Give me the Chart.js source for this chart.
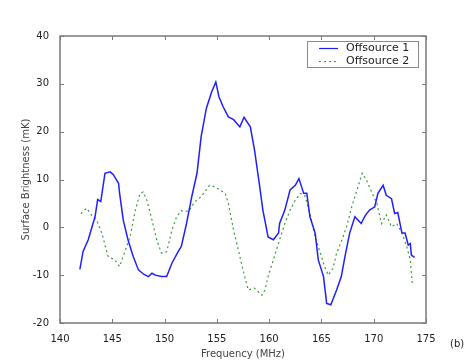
<!DOCTYPE html>
<html>
<head>
<meta charset="utf-8">
<script src="https://cdn.jsdelivr.net/npm/chart.js@4"></script>
<style>
  html,body{margin:0;padding:0;background:#fff;}
  #wrap{width:473px;height:360px;}
</style>
</head>
<body>
<div id="wrap"><canvas id="chart" width="473" height="360"></canvas></div>
<script>
// data
const freq1 = [141.9,142.2,142.7,143.35,143.6,143.9,144.3,144.8,145.1,145.6,145.7,146.05,146.5,147.0,147.5,148.0,148.45,148.8,149.1,149.7,150.2,150.7,151.3,151.6,152.1,152.6,153.1,153.5,154.0,154.5,154.9,155.2,155.6,156.1,156.6,157.2,157.6,158.2,158.6,159.1,159.4,159.9,160.4,160.9,161.0,161.5,162.0,162.5,162.85,163.3,163.6,163.9,164.4,164.7,165.2,165.5,165.9,166.45,166.9,167.25,167.7,168.2,168.8,169.2,169.6,170.1,170.4,170.9,171.2,171.7,172.0,172.3,172.7,173.0,173.3,173.5,173.6,173.9];
const offsource1 = [-8.8,-5.1,-2.6,2.2,5.8,5.4,11.3,11.6,11.0,9.2,7.1,1.5,-2.6,-6.1,-8.9,-9.8,-10.3,-9.6,-10.0,-10.3,-10.3,-7.5,-5.1,-4.0,0.8,6.4,11.3,19.0,24.9,28.3,30.4,27.3,25.2,23.1,22.5,21.0,23.0,21.0,16.2,8.5,3.6,-2.0,-2.6,-1.2,0.8,3.6,7.8,8.8,10.2,7.1,7.1,2.2,-1.2,-6.8,-10.3,-15.9,-16.2,-13.1,-10.3,-6.1,-1.2,2.2,0.8,2.5,3.6,4.3,7.1,8.8,6.7,6.0,2.9,3.1,-1.2,-1.2,-3.7,-3.4,-5.8,-6.3];

const freq2 = [142.0,142.55,143.0,143.5,144.0,144.6,145.25,145.7,146.2,146.7,147.2,147.65,147.95,148.3,148.8,149.25,149.7,150.2,150.7,151.15,151.6,152.3,152.9,153.5,154.3,154.8,155.3,155.8,156.1,156.6,157.05,157.5,158.0,158.6,159.3,159.6,159.9,160.4,161.0,161.5,162.0,162.5,163.0,163.4,163.9,164.4,164.9,165.3,165.65,166.1,166.45,166.9,167.4,167.9,168.4,168.9,169.3,169.8,170.3,170.75,171.2,171.7,172.2,172.7,173.15,173.5,173.7];
const offsource2 = [2.9,4.0,2.6,1.5,-1.2,-6.1,-6.8,-8.2,-5.1,-2.0,3.6,7.1,7.4,5.7,1.5,-2.6,-5.4,-5.1,-0.6,2.2,3.5,3.3,5.4,6.4,8.8,8.5,7.8,7.1,5.0,-0.6,-4.7,-8.9,-13.1,-12.7,-14.2,-13.1,-10.3,-6.8,-2.6,0.8,3.6,5.7,7.1,6.7,2.9,-2.0,-5.4,-8.2,-10.0,-8.6,-5.4,-3.0,0.1,4.3,7.8,11.3,9.9,7.4,5.0,0.8,2.6,0.1,0.8,-1.2,-4.0,-6.8,-12.1];

const seriesNames = ['Offsource 1','Offsource 2'];
const xTicks = [140,145,150,155,160,165,170,175];
const yTicks = [-20,-10,0,10,20,30,40];

function pts(xs, ys){ return xs.map((x,i)=>({x:x, y:ys[i]})); }

const tickFont = {family:'"DejaVu Sans", sans-serif', size:10};

// box, inward ticks, legend and panel tag
const framePlugin = {
  id:'frame',
  afterDraw(chart){
    const ctx = chart.ctx, a = chart.chartArea;
    const xs = chart.scales.x, ys = chart.scales.y;
    ctx.save();
    ctx.strokeStyle = '#7a7a7a';
    ctx.lineWidth = 1.5;
    ctx.strokeRect(a.left, a.top, a.right-a.left, a.bottom-a.top);
    ctx.lineWidth = 1;
    ctx.beginPath();
    xTicks.forEach(v=>{
      const p = Math.round(xs.getPixelForValue(v))+0.5;
      ctx.moveTo(p, a.bottom); ctx.lineTo(p, a.bottom-4);
      ctx.moveTo(p, a.top); ctx.lineTo(p, a.top+4);
    });
    yTicks.forEach(v=>{
      const p = Math.round(ys.getPixelForValue(v))+0.5;
      ctx.moveTo(a.left, p); ctx.lineTo(a.left+4, p);
      ctx.moveTo(a.right, p); ctx.lineTo(a.right-4, p);
    });
    ctx.stroke();

    // legend
    const lx = 307, ly = 41, lw = 111, lh = 26;
    ctx.fillStyle = '#fff';
    ctx.fillRect(lx, ly, lw, lh);
    ctx.strokeStyle = '#8a8a8a';
    ctx.lineWidth = 1;
    ctx.strokeRect(lx+0.5, ly+0.5, lw, lh);
    ctx.font = '11px "DejaVu Sans", sans-serif';
    ctx.textBaseline = 'middle';
    chart.data.datasets.forEach((ds,i)=>{
      const y = ly + 7.5 + i*13;
      ctx.strokeStyle = ds.borderColor;
      ctx.lineWidth = 1.2;
      ctx.setLineDash(ds.borderDash || []);
      ctx.beginPath(); ctx.moveTo(319, y); ctx.lineTo(338, y); ctx.stroke();
      ctx.setLineDash([]);
      ctx.fillStyle = '#222';
      ctx.fillText(ds.label, 346, y);
    });

    ctx.font = '10px "DejaVu Sans", sans-serif';
    ctx.fillStyle = '#222';
    ctx.fillText('(b)', 450, 344);
    ctx.restore();
  }
};

new Chart(document.getElementById('chart'), {
  type:'scatter',
  data:{
    datasets:[
      {label:seriesNames[0], data:pts(freq1, offsource1), showLine:true, borderColor:'#2020ff', borderWidth:1.5, pointRadius:0, tension:0},
      {label:seriesNames[1], data:pts(freq2, offsource2), showLine:true, borderColor:'#3a9a3a', borderWidth:1.2, borderDash:[2,3], pointRadius:0, tension:0}
    ]
  },
  options:{
    responsive:false,
    animation:false,
    layout:{padding:{top:36, right:47, left:0, bottom:0}},
    plugins:{legend:{display:false}, tooltip:{enabled:false}},
    scales:{
      x:{
        type:'linear', min:140, max:175,
        afterBuildTicks(s){ s.ticks = xTicks.map(v=>({value:v})); },
        afterFit(s){ s.height = 37; },
        grid:{display:false}, border:{display:false},
        ticks:{font:tickFont, color:'#222', padding:2, maxRotation:0},
        title:{display:true, text:'Frequency (MHz)', font:{family:'"DejaVu Sans", sans-serif', size:10}, color:'#444', padding:{top:0,bottom:0}}
      },
      y:{
        min:-20, max:40,
        afterBuildTicks(s){ s.ticks = yTicks.map(v=>({value:v})); },
        afterFit(s){ s.width = 60; },
        grid:{display:false}, border:{display:false},
        ticks:{font:tickFont, color:'#222', padding:3},
        title:{display:true, text:'Surface Brightness (mK)', font:{family:'"DejaVu Sans", sans-serif', size:10}, color:'#444', padding:{top:20,bottom:0}}
      }
    }
  },
  plugins:[framePlugin]
});
</script>
</body>
</html>
